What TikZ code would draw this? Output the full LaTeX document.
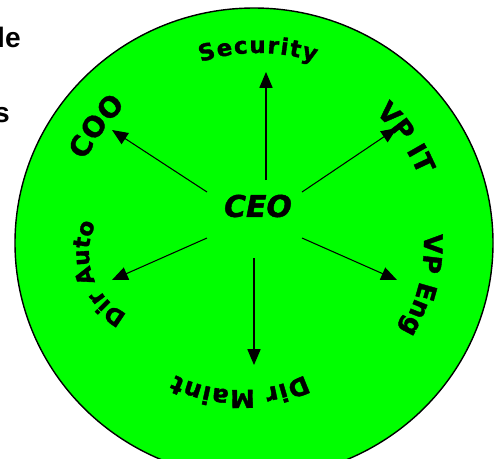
\documentclass[tikz,border=0pt]{standalone}
\usepackage{fontspec}
\setmainfont{DejaVu Sans}
\newfontfamily\fragfont{Liberation Sans}
\newfontfamily\heavyfont[FakeBold=1.5]{DejaVu Sans Bold}
\newfontfamily\heavyslant[FakeBold=1.5]{DejaVu Sans Bold Oblique}
\usetikzlibrary{arrows.meta,decorations.text}
\definecolor{discgreen}{RGB}{0,255,0}
\definecolor{inkcol}{RGB}{0,0,0}

\begin{document}
\begin{tikzpicture}[
  x=0.02cm, y=-0.02cm,
  disc/.style={draw=inkcol, line width=0.8pt, fill=discgreen},
  boss/.style={font=\heavyslant\fontsize{17}{20}\selectfont, text=inkcol, inner sep=1pt},
  frag/.style={font=\fragfont\bfseries\fontsize{16}{19}\selectfont, text=inkcol, inner sep=0pt, anchor=base east},
  link/.style={draw=inkcol, line width=0.6pt, -{Triangle[length=9pt,width=7.5pt]}},
  ring/.style={decorate, decoration={text along path, text align=fit to path, text color=inkcol}}
]
\clip (0,0) rectangle (497,458);

%% ===================== Disc ====================================
\path[disc] (254,243) ellipse[x radius=239, y radius=235];

%% ===================== Cut-off text at left ====================
\node[frag] (fragA) at (21,47)  {le};
\node[frag] (fragB) at (10,122) {s};

%% ===================== Centre ==================================
\node[boss] (ceo) at (258,206) {CEO};

%% ===================== Labels round the rim ====================
\path[ring, decoration={text={|\heavyfont\fontsize{13}{15}\selectfont|Security}}]
  (258,238) ++(-108:185) arc[start angle=-108, end angle=-72, radius=185];
\path[ring, decoration={text={|\heavyfont\fontsize{15}{17}\selectfont|VP IT}}]
  (254,243) ++(-47:178) arc[start angle=-47, end angle=-23, radius=178];
\path[ring, decoration={text={|\heavyfont\fontsize{14.5}{17}\selectfont|VP Eng}}]
  (254,243) ++(-3:170) arc[start angle=-3, end angle=30, radius=170];
\path[ring, decoration={text={|\heavyfont\fontsize{14}{16}\selectfont|Dir Maint}}]
  (240,242) ++(64:148) arc[start angle=64, end angle=116, radius=148];
\path[ring, decoration={text={|\heavyfont\fontsize{13}{15}\selectfont|Dir Auto}}]
  (157,253) ++(116:68) arc[start angle=116, end angle=200, radius=68];
\path[ring, decoration={text={|\heavyfont\fontsize{16}{18}\selectfont|COO}}]
  (254,243) ++(206:188) arc[start angle=206, end angle=227, radius=188];

%% ===================== Arrow ends ==============================
\coordinate (secA)  at (266,180);  \coordinate (secB)  at (266,72);
\coordinate (itA)   at (302,192);  \coordinate (itB)   at (397,128);
\coordinate (engA)  at (302,238);  \coordinate (engB)  at (397,280);
\coordinate (mntA)  at (254,258);  \coordinate (mntB)  at (254,365);
\coordinate (autoA) at (207,238);  \coordinate (autoB) at (112,280);
\coordinate (cooA)  at (207,192);  \coordinate (cooB)  at (112,130);

%% ===================== Arrows ==================================
\draw[link] (secA)  -- (secB);
\draw[link] (itA)   -- (itB);
\draw[link] (engA)  -- (engB);
\draw[link] (mntA)  -- (mntB);
\draw[link] (autoA) -- (autoB);
\draw[link] (cooA)  -- (cooB);

\end{tikzpicture}
\end{document}
